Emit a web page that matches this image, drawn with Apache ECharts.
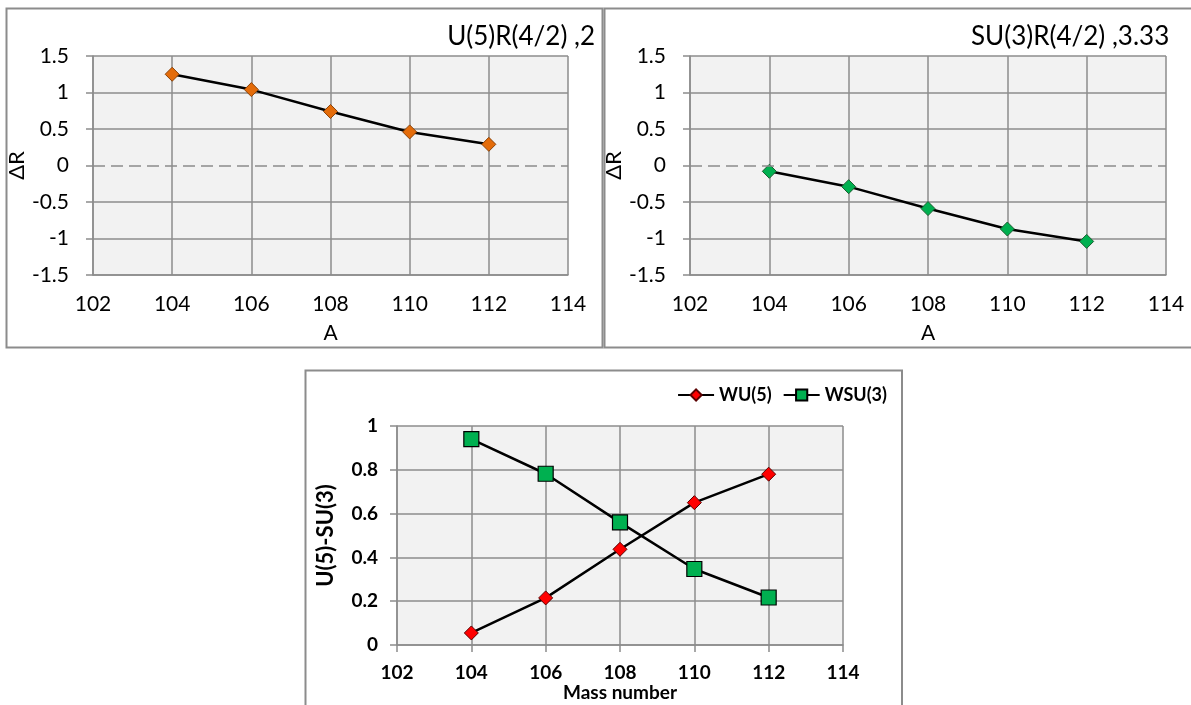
<!DOCTYPE html>
<html>
<head>
<meta charset="utf-8">
<script src="https://cdn.jsdelivr.net/npm/echarts@6/dist/echarts.min.js"></script>
<style>
html,body{margin:0;padding:0;background:#fff;}
#chart{width:1191px;height:705px;}
</style>
</head>
<body>
<div id="chart"></div>
<script>
// ---- data ----
const massNumbers = [104, 106, 108, 110, 112];
const deltaR_U5 = [1.25, 1.04, 0.74, 0.46, 0.29];
const deltaR_SU3 = [-0.08, -0.29, -0.59, -0.87, -1.04];
const weightU5 = [0.055, 0.215, 0.437, 0.650, 0.780];
const weightSU3 = [0.940, 0.782, 0.560, 0.347, 0.217];
const xRange = [102, 114];
const deltaRRange = [-1.5, 1.5];
const weightRange = [0, 1];
const titles = ['U(5)R(4/2) ,2', 'SU(3)R(4/2) ,3.33'];
const seriesNames = ['WU(5)', 'WSU(3)'];

const pair = (xs, ys) => xs.map((x, i) => [x, ys[i]]);

const GRID = '#8c8c8c';
const FONT = 'Lato';
const topLabel = {color: '#000', fontFamily: FONT, fontSize: 21};
const botLabel = {color: '#000', fontFamily: FONT, fontSize: 19, fontWeight: 'bold'};

function xAxisTop(gridIndex) {
  return {
    type: 'value', gridIndex, min: xRange[0], max: xRange[1], interval: 2,
    name: 'A', nameLocation: 'middle', nameGap: 48,
    nameTextStyle: {color: '#000', fontFamily: FONT, fontSize: 21},
    axisLine: {show: true, onZero: false, lineStyle: {color: GRID, width: 1.5}},
    axisTick: {show: false},
    axisLabel: Object.assign({margin: 19}, topLabel),
    splitLine: {show: true, lineStyle: {color: GRID, width: 1.5}}
  };
}
function yAxisTop(gridIndex) {
  return {
    type: 'value', gridIndex, min: deltaRRange[0], max: deltaRRange[1], interval: 0.5,
    name: 'ΔR', nameLocation: 'middle', nameGap: 58,
    nameTextStyle: {color: '#000', fontFamily: FONT, fontSize: 22},
    axisLine: {show: true, lineStyle: {color: GRID, width: 1.5}},
    axisTick: {show: true, inside: false, length: 7, lineStyle: {color: GRID, width: 1.5}},
    axisLabel: Object.assign({margin: 24}, topLabel),
    splitLine: {show: true, lineStyle: {color: [GRID, GRID, GRID, 'rgba(0,0,0,0)', GRID, GRID, GRID], width: 1.5}}
  };
}
const zeroLine = {
  silent: true, symbol: 'none', label: {show: false},
  lineStyle: {color: GRID, width: 1.5, type: [12, 6]},
  emphasis: {disabled: true},
  data: [{yAxis: 0}]
};

const option = {
  animation: false,
  backgroundColor: '#fff',
  title: [
    {text: titles[0], right: 596, top: 24, padding: 0,
     textStyle: {color: '#000', fontFamily: FONT, fontSize: 26, fontWeight: 'normal'}},
    {text: titles[1], left: 971, top: 24, padding: 0,
     textStyle: {color: '#000', fontFamily: FONT, fontSize: 26, fontWeight: 'normal'}}
  ],
  graphic: [
    {type: 'rect', shape: {x: 6.5, y: 8.5, width: 596, height: 339}, style: {fill: 'none', stroke: GRID, lineWidth: 2}, silent: true, z: -1},
    {type: 'rect', shape: {x: 604.5, y: 8.5, width: 600, height: 339}, style: {fill: 'none', stroke: GRID, lineWidth: 2}, silent: true, z: -1},
    {type: 'rect', shape: {x: 305.5, y: 370.5, width: 596.5, height: 350}, style: {fill: 'none', stroke: GRID, lineWidth: 2}, silent: true, z: -1}
  ],
  legend: {
    data: seriesNames, right: 299, top: 381, itemWidth: 36, itemHeight: 14, itemGap: 11,
    textStyle: {color: '#000', fontFamily: FONT, fontSize: 18, fontWeight: 700}
  },
  grid: [
    {left: 93, top: 56, width: 475, height: 219, show: true, backgroundColor: '#f2f2f2', borderWidth: 0},
    {left: 690, top: 56, width: 476, height: 219, show: true, backgroundColor: '#f2f2f2', borderWidth: 0},
    {left: 397, top: 426, width: 446, height: 219, show: true, backgroundColor: '#f2f2f2', borderWidth: 0}
  ],
  xAxis: [
    xAxisTop(0),
    xAxisTop(1),
    {
      type: 'value', gridIndex: 2, min: xRange[0], max: xRange[1], interval: 2,
      name: 'Mass number', nameLocation: 'middle', nameGap: 38,
      nameTextStyle: {color: '#000', fontFamily: FONT, fontSize: 19, fontWeight: 700},
      axisLine: {show: true, onZero: false, lineStyle: {color: GRID, width: 1.5}},
      axisTick: {show: true, length: 7, lineStyle: {color: GRID, width: 1.5}},
      axisLabel: Object.assign({margin: 18}, botLabel),
      splitLine: {show: true, lineStyle: {color: GRID, width: 1.5}}
    }
  ],
  yAxis: [
    yAxisTop(0),
    yAxisTop(1),
    {
      type: 'value', gridIndex: 2, min: weightRange[0], max: weightRange[1], interval: 0.2,
      name: 'U(5)-SU(3)', nameLocation: 'middle', nameGap: 60,
      nameTextStyle: {color: '#000', fontFamily: FONT, fontSize: 22, fontWeight: 700},
      axisLine: {show: true, lineStyle: {color: GRID, width: 1.5}},
      axisTick: {show: true, length: 7, lineStyle: {color: GRID, width: 1.5}},
      axisLabel: Object.assign({margin: 19}, botLabel),
      splitLine: {show: true, lineStyle: {color: GRID, width: 1.5}}
    }
  ],
  series: [
    {
      type: 'line', xAxisIndex: 0, yAxisIndex: 0, data: pair(massNumbers, deltaR_U5),
      symbol: 'diamond', symbolSize: 14,
      lineStyle: {color: '#000', width: 2.5},
      itemStyle: {color: '#E46C0A', borderColor: '#8a4208', borderWidth: 1},
      markLine: zeroLine, z: 3
    },
    {
      type: 'line', xAxisIndex: 1, yAxisIndex: 1, data: pair(massNumbers, deltaR_SU3),
      symbol: 'diamond', symbolSize: 14,
      lineStyle: {color: '#000', width: 2.5},
      itemStyle: {color: '#00B050', borderColor: '#1b5e30', borderWidth: 1},
      markLine: zeroLine, z: 3
    },
    {
      name: seriesNames[0],
      type: 'line', xAxisIndex: 2, yAxisIndex: 2, data: pair(massNumbers, weightU5),
      symbol: 'diamond', symbolSize: 14,
      lineStyle: {color: '#000', width: 2.5},
      itemStyle: {color: '#FF0000', borderColor: '#5a0000', borderWidth: 1}
    },
    {
      name: seriesNames[1],
      type: 'line', xAxisIndex: 2, yAxisIndex: 2, data: pair(massNumbers, weightSU3),
      symbol: 'rect', symbolSize: 15,
      lineStyle: {color: '#000', width: 2.5},
      itemStyle: {color: '#00B050', borderColor: '#000', borderWidth: 1.2}
    }
  ]
};

const chart = echarts.init(document.getElementById('chart'), null, {renderer: 'canvas'});
chart.setOption(option);
</script>
</body>
</html>
